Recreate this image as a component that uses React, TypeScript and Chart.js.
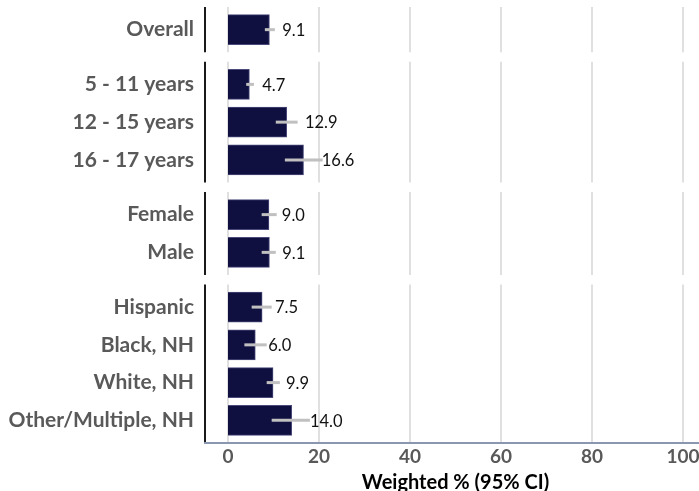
import React, { useEffect, useRef } from "react";
import { Chart, registerables } from "chart.js";

Chart.register(...registerables);

// ---- Data ----
const categories = [
  "Overall",
  "5 - 11 years",
  "12 - 15 years",
  "16 - 17 years",
  "Female",
  "Male",
  "Hispanic",
  "Black, NH",
  "White, NH",
  "Other/Multiple, NH",
];
const groupSizes = [1, 3, 2, 4];
const values = [9.1, 4.7, 12.9, 16.6, 9.0, 9.1, 7.5, 6.0, 9.9, 14.0];
const ciLower = [8.1, 4.0, 10.5, 12.5, 7.4, 7.4, 5.2, 3.6, 8.5, 9.6];
const ciUpper = [10.3, 5.7, 15.3, 20.8, 10.7, 10.5, 9.6, 8.5, 11.4, 18.0];
const xTickValues = [0, 20, 40, 60, 80, 100];
const xAxisTitle = "Weighted % (95% CI)";

// ---- Layout helpers (group spacing, not data) ----
const GROUP_GAP = 0.45;
const GROUP_PAD = 0.6;

const groupOf: number[] = [];
groupSizes.forEach((n, g) => {
  for (let k = 0; k < n; k++) groupOf.push(g);
});
const positions = categories.map((_, i) => i + groupOf[i] * GROUP_GAP);
const groupRanges = groupSizes.map((n, g) => {
  const first = groupOf.indexOf(g);
  return [positions[first] - GROUP_PAD, positions[first + n - 1] + GROUP_PAD];
});

const AXIS_X_PIXEL_OFFSET = 23; // left axis line sits left of x=0

const decorPlugin = {
  id: "decor",
  beforeDatasetsDraw(chart: any) {
    const { ctx, scales } = chart;
    const xs = scales.x;
    const ys = scales.y;
    ctx.save();
    // gridlines per group
    ctx.strokeStyle = "#d6d6d6";
    ctx.lineWidth = 1.5;
    groupRanges.forEach(([a, b]) => {
      const top = ys.getPixelForValue(a);
      const bot = ys.getPixelForValue(b);
      xTickValues.forEach((v) => {
        const px = xs.getPixelForValue(v);
        ctx.beginPath();
        ctx.moveTo(px, top);
        ctx.lineTo(px, bot);
        ctx.stroke();
      });
    });
    ctx.restore();
  },
  afterDatasetsDraw(chart: any) {
    const { ctx, scales } = chart;
    const xs = scales.x;
    const ys = scales.y;
    const axisX = xs.getPixelForValue(0) - AXIS_X_PIXEL_OFFSET;
    ctx.save();
    // left axis segments
    ctx.strokeStyle = "#1a1a1a";
    ctx.lineWidth = 2;
    groupRanges.forEach(([a, b]) => {
      ctx.beginPath();
      ctx.moveTo(axisX, ys.getPixelForValue(a));
      ctx.lineTo(axisX, ys.getPixelForValue(b));
      ctx.stroke();
    });
    // bottom axis line
    const bottomY = ys.getPixelForValue(groupRanges[groupRanges.length - 1][1]);
    ctx.strokeStyle = "#8a97b0";
    ctx.lineWidth = 2;
    ctx.beginPath();
    ctx.moveTo(axisX - 1, bottomY);
    ctx.lineTo(chart.width, bottomY);
    ctx.stroke();

    // error bars
    ctx.strokeStyle = "#c0c0c0";
    ctx.lineWidth = 3;
    ctx.lineCap = "butt";
    positions.forEach((p, i) => {
      const y = ys.getPixelForValue(p);
      ctx.beginPath();
      ctx.moveTo(xs.getPixelForValue(ciLower[i]), y);
      ctx.lineTo(xs.getPixelForValue(ciUpper[i]), y);
      ctx.stroke();
    });

    // value labels
    ctx.font = "16.5px Lato";
    ctx.fillStyle = "#111111";
    ctx.textAlign = "left";
    ctx.textBaseline = "middle";
    positions.forEach((p, i) => {
      const txt = values[i].toFixed(1);
      const w = ctx.measureText(txt).width;
      const xEnd = xs.getPixelForValue(values[i]);
      ctx.fillText(txt, xEnd + 0.56 * w, ys.getPixelForValue(p) + 1);
    });
    ctx.restore();
  },
};

export default function App() {
  const canvasRef = useRef<HTMLCanvasElement | null>(null);

  useEffect(() => {
    if (!canvasRef.current) return;
    const chart = new Chart(canvasRef.current, {
      type: "bar",
      data: {
        datasets: [
          {
            data: positions.map((p, i) => ({ x: values[i], y: p })) as any,
            backgroundColor: "#0f0f40",
            borderColor: "#4a4a7a",
            borderWidth: 1,
            barThickness: 30,
          },
        ],
      },
      options: {
        indexAxis: "y",
        animation: false,
        responsive: false,
        devicePixelRatio: 1,
        layout: { padding: { top: 7, left: 0, right: 0, bottom: 0 } },
        plugins: {
          legend: { display: false },
          tooltip: { enabled: false },
        },
        scales: {
          x: {
            type: "linear",
            min: 0,
            max: 100,
            afterBuildTicks: (s: any) => {
              s.ticks = xTickValues.map((v) => ({ value: v }));
            },
            afterFit: (s: any) => {
              s.height = 48;
              s.paddingLeft = 0;
              s.paddingRight = 16;
            },
            grid: { display: false, drawTicks: false },
            border: { display: false },
            ticks: {
              autoSkip: false,
              maxRotation: 0,
              padding: 2,
              color: "#595959",
              font: { family: "Lato", size: 19, weight: "bold" },
            },
            title: {
              display: true,
              text: xAxisTitle,
              color: "#000000",
              font: { family: "Lato", size: 20, weight: "bold", lineHeight: 1 },
              padding: { top: 0, bottom: -2 },
            },
          },
          y: {
            type: "linear",
            reverse: true,
            offset: false,
            min: groupRanges[0][0],
            max: groupRanges[groupRanges.length - 1][1],
            afterBuildTicks: (s: any) => {
              s.ticks = positions.map((v) => ({ value: v }));
            },
            afterFit: (s: any) => {
              s.width = 228;
              s.paddingTop = 0;
              s.paddingBottom = 0;
            },
            grid: { display: false, drawTicks: false },
            border: { display: false },
            ticks: {
              autoSkip: false,
              padding: 34,
              color: "#595959",
              font: { family: "Lato", size: 21, weight: "bold" },
              callback: (_v: any, i: number) => categories[i],
            },
          },
        },
      } as any,
      plugins: [decorPlugin],
    });
    return () => chart.destroy();
  }, []);

  return (
    <div style={{ position: "absolute", left: 0, top: 0, width: 699, height: 491, background: "#fff" }}>
      <canvas ref={canvasRef} width={699} height={491} style={{ display: "block" }} />
    </div>
  );
}
